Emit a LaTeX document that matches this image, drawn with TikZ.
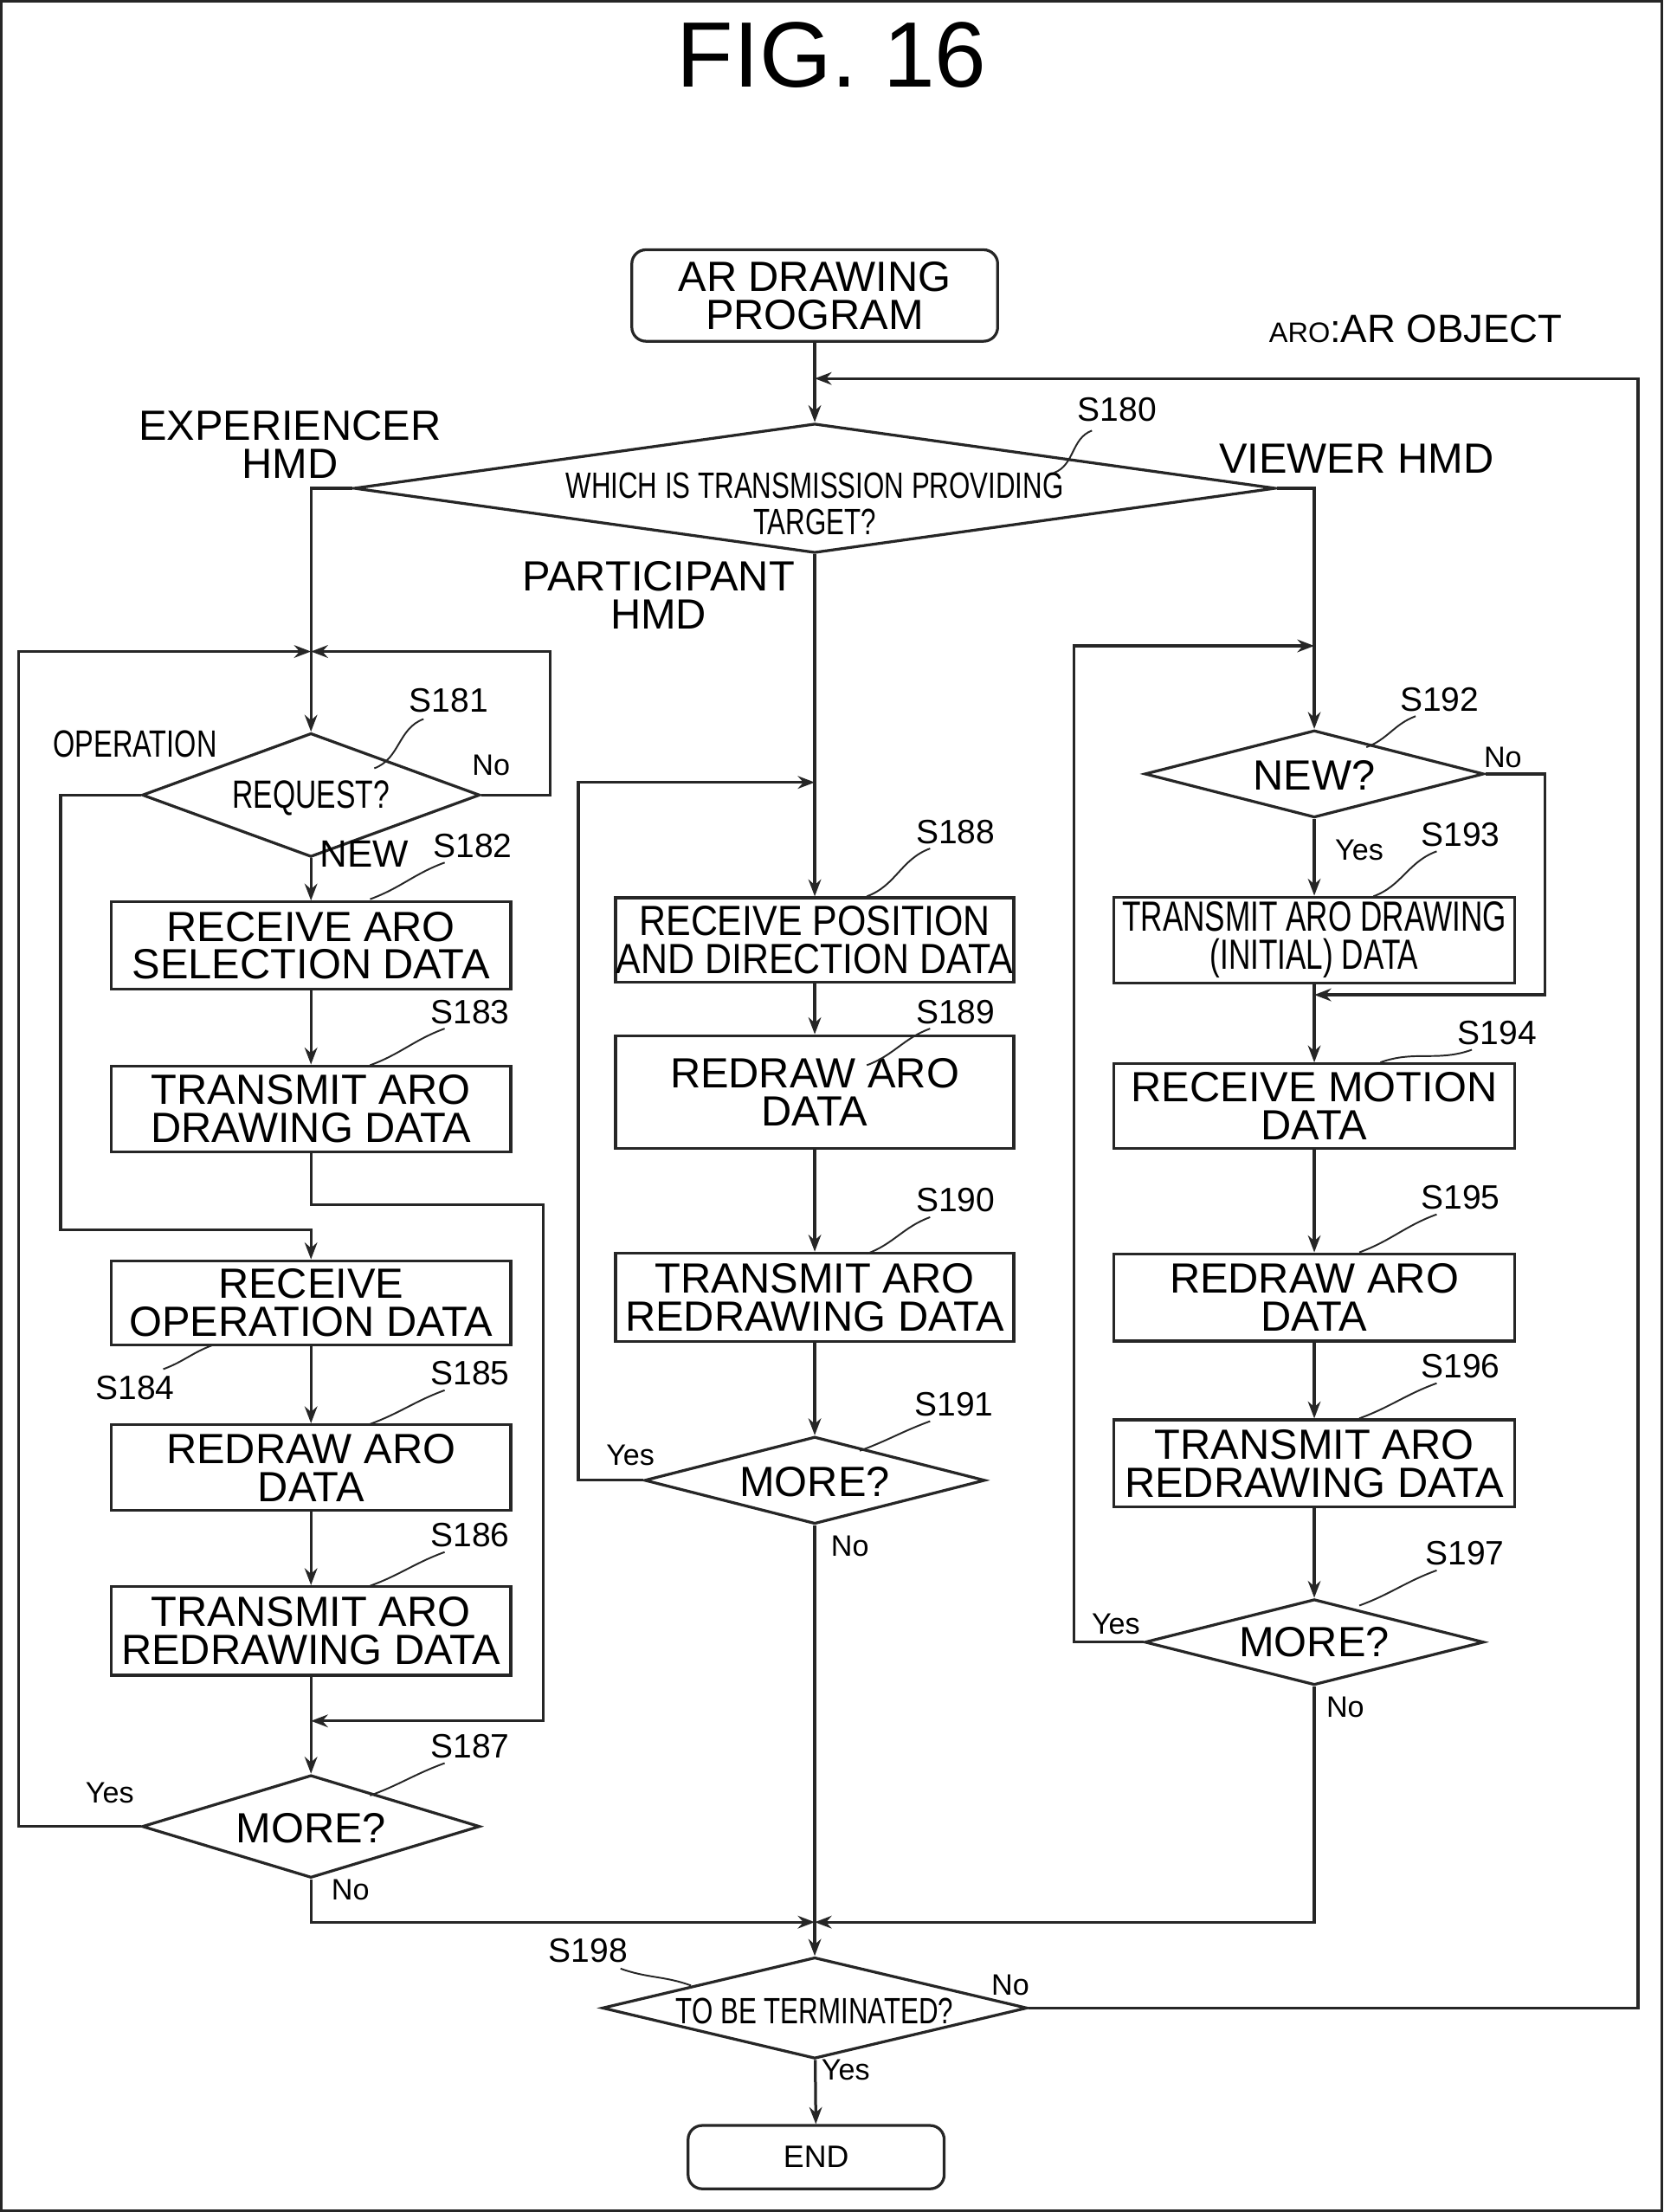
\documentclass[tikz,border=0pt]{standalone}
\usepackage{fontspec}
\setmainfont{Liberation Sans}
\usetikzlibrary{shapes.geometric,arrows.meta}
\newcommand{\cx}[1]{\scalebox{0.74}[1]{#1}}
\begin{document}
\begin{tikzpicture}[x=1pt,y=-1pt,
  every path/.style={line width=2pt,draw=black!85},
  >={Stealth[length=12pt,width=9pt]},
  box/.style={draw,rectangle,line width=2pt,inner sep=0pt,align=center,minimum width=284pt,font=\fontsize{30}{27}\selectfont},
  rbox/.style={box,rounded corners=10pt},
  dia/.style={draw,diamond,line width=2pt,inner sep=0pt},
  txt/.style={inner sep=0pt,align=center,font=\fontsize{30}{27}\selectfont},
  lab/.style={inner sep=0pt,font=\fontsize{24}{24}\selectfont},
  yn/.style={inner sep=0pt,font=\fontsize{21}{21}\selectfont},
  sq/.style={line width=1.2pt}]
\useasboundingbox (0,0) rectangle (1180,1570);
\node[inner sep=0pt,font=\fontsize{66}{66}\selectfont] (title) at (590,38) {FIG. 16};
\node[rbox,minimum width=260pt,minimum height=65pt] (start) at (578,209) {AR DRAWING\\PROGRAM};
\node[inner sep=0pt,font=\fontsize{28}{28}\selectfont] (legend) at (1005,233) {{\fontsize{20}{20}\selectfont ARO}:AR OBJECT};
% diamonds
\node[dia,minimum width=655pt,minimum height=92pt] (d180) at (578,346) {};
\node[txt,font=\fontsize{26}{26}\selectfont] (t180) at (578,357) {\cx{WHICH IS TRANSMISSION PROVIDING}\\\cx{TARGET?}};
\node[dia,minimum width=240pt,minimum height=88pt] (d181) at (220,564) {};
\node[txt] (t181) at (220,566) {\cx{\fontsize{28}{28}\selectfont REQUEST?}};
\node[dia,minimum width=240pt,minimum height=73pt] (d187) at (220,1297) {};
\node[txt] (t187) at (220,1298) {MORE?};
\node[dia,minimum width=242pt,minimum height=62pt] (d191) at (578,1051) {};
\node[txt] (t191) at (578,1052) {MORE?};
\node[dia,minimum width=241pt,minimum height=62pt] (d192) at (933,549) {};
\node[txt] (t192) at (933,550) {NEW?};
\node[dia,minimum width=241pt,minimum height=61pt] (d197) at (933,1166) {};
\node[txt] (t197) at (933,1166) {MORE?};
\node[dia,minimum width=302pt,minimum height=72pt] (d198) at (578,1426) {};
\node[txt,font=\fontsize{26}{26}\selectfont] (t198) at (578,1428) {\cx{TO BE TERMINATED?}};
% boxes
\node[box,minimum height=62pt] (b182) at (220,671) {RECEIVE ARO\\SELECTION DATA};
\node[box,minimum height=61pt] (b183) at (220,787) {TRANSMIT ARO\\DRAWING DATA};
\node[box,minimum height=60pt] (b184) at (220,925) {RECEIVE\\OPERATION DATA};
\node[box,minimum height=61pt] (b185) at (220,1042) {REDRAW ARO\\DATA};
\node[box,minimum height=63pt] (b186) at (220,1158) {TRANSMIT ARO\\REDRAWING DATA};
\node[box,minimum width=283pt,minimum height=60pt] (b188) at (578,667) {\scalebox{0.88}[1]{RECEIVE POSITION}\\\scalebox{0.88}[1]{AND DIRECTION DATA}};
\node[box,minimum width=283pt,minimum height=80pt] (b189) at (578,775) {REDRAW ARO\\DATA};
\node[box,minimum width=283pt,minimum height=63pt] (b190) at (578,921) {TRANSMIT ARO\\REDRAWING DATA};
\node[box,minimum width=285pt,minimum height=61pt] (b193) at (933,667) {\scalebox{0.72}[1]{TRANSMIT ARO DRAWING}\\\scalebox{0.72}[1]{(INITIAL) DATA}};
\node[box,minimum width=285pt,minimum height=60pt] (b194) at (933,785) {RECEIVE MOTION\\DATA};
\node[box,minimum width=285pt,minimum height=62pt] (b195) at (933,921) {REDRAW ARO\\DATA};
\node[box,minimum width=285pt,minimum height=62pt] (b196) at (933,1039) {TRANSMIT ARO\\REDRAWING DATA};
\node[rbox,minimum width=182pt,minimum height=45pt,font=\fontsize{22}{22}\selectfont] (end) at (579,1532) {END};
% branch labels
\node[txt] (lexp) at (205,315) {EXPERIENCER\\HMD};
\node[txt] (lview) at (963,325) {VIEWER HMD};
\node[txt] (lpart) at (467,422) {PARTICIPANT\\HMD};
\node[txt,font=\fontsize{27}{27}\selectfont] (lop) at (95,528) {\cx{OPERATION}};
\node[txt,font=\fontsize{27}{27}\selectfont] (lnew) at (258,606) {NEW};
% step labels
\node[lab] (s180) at (793,290) {S180};
\node[lab] (s181) at (318,497) {S181};
\node[lab] (s182) at (335,600) {S182};
\node[lab] (s183) at (333,718) {S183};
\node[lab] (s184) at (95,985) {S184};
\node[lab] (s185) at (333,975) {S185};
\node[lab] (s186) at (333,1090) {S186};
\node[lab] (s187) at (333,1240) {S187};
\node[lab] (s188) at (678,590) {S188};
\node[lab] (s189) at (678,718) {S189};
\node[lab] (s190) at (678,852) {S190};
\node[lab] (s191) at (677,997) {S191};
\node[lab] (s192) at (1022,496) {S192};
\node[lab] (s193) at (1037,592) {S193};
\node[lab] (s194) at (1063,733) {S194};
\node[lab] (s195) at (1037,850) {S195};
\node[lab] (s196) at (1037,970) {S196};
\node[lab] (s197) at (1040,1103) {S197};
\node[lab] (s198) at (417,1385) {S198};
% squiggles
\draw[sq] (775,305) to[out=200,in=20] (748,335);
\draw[sq] (300,510) to[out=200,in=20] (265,545);
\draw[sq] (315,612) to[out=200,in=20] (262,638);
\draw[sq] (315,730) to[out=200,in=20] (262,756);
\draw[sq] (115,972) to[out=20,in=200] (150,955);
\draw[sq] (315,987) to[out=200,in=20] (262,1011);
\draw[sq] (315,1102) to[out=200,in=20] (262,1126);
\draw[sq] (315,1252) to[out=200,in=20] (262,1275);
\draw[sq] (660,602) to[out=200,in=20] (615,636);
\draw[sq] (660,730) to[out=200,in=20] (615,756);
\draw[sq] (660,864) to[out=200,in=20] (615,890);
\draw[sq] (660,1009) to[out=200,in=20] (610,1030);
\draw[sq] (1005,508) to[out=200,in=20] (970,530);
\draw[sq] (1020,604) to[out=200,in=20] (975,636);
\draw[sq] (1045,745) to[out=200,in=20] (980,754);
\draw[sq] (1020,862) to[out=200,in=20] (965,889);
\draw[sq] (1020,982) to[out=200,in=20] (965,1007);
\draw[sq] (1020,1115) to[out=200,in=20] (965,1140);
\draw[sq] (440,1398) to[out=-20,in=160] (490,1410);
% yes/no
\node[yn] (n181) at (348,543) {No};
\node[yn] (y187) at (77,1273) {Yes};
\node[yn] (n187) at (248,1342) {No};
\node[yn] (y191) at (447,1033) {Yes};
\node[yn] (n191) at (603,1098) {No};
\node[yn] (n192) at (1067,537) {No};
\node[yn] (y192) at (965,603) {Yes};
\node[yn] (y197) at (792,1153) {Yes};
\node[yn] (n197) at (955,1212) {No};
\node[yn] (n198) at (717,1410) {No};
\node[yn] (y198) at (600,1470) {Yes};
% coordinates
\coordinate (top) at (578,268);
\coordinate (jL) at (220,462);
\coordinate (jM) at (578,555);
\coordinate (jR) at (933,458);
\coordinate (jL2) at (220,1222);
\coordinate (jE) at (578,1365);
% connectors
\draw[->] (start) -- (d180.north);
\draw[->] (d198.east) -- (1163,1426) -- (1163,268) -- (top);
\draw[->] (d180.west) -| (d181.north);
\draw[->] (d181.east) -- (390,564) -- (390,462) -- (jL);
\draw[->] (d187.west) -- (12,1297) -- (12,462) -- (jL);
\draw[->] (d181.west) -- (42,564) -- (42,873) -- (220,873) -- (b184.north);
\draw[->] (d181) -- (b182);
\draw[->] (b182) -- (b183);
\draw[->] (b183.south) -- (220,855) -- (385,855) -- (385,1222) -- (jL2);
\draw[->] (b184) -- (b185);
\draw[->] (b185) -- (b186);
\draw[->] (b186) -- (d187);
\draw[->] (d187.south) -- (220,1365) -- (jE);
\draw[->] (d180.south) -- (b188.north);
\draw[->] (d191.west) -- (410,1051) -- (410,555) -- (jM);
\draw[->] (b188) -- (b189);
\draw[->] (b189) -- (b190);
\draw[->] (b190) -- (d191);
\draw[->] (d191.south) -- (d198.north);
\draw[->] (d180.east) -| (d192.north);
\draw[->] (d192.east) -- (1097,549) -- (1097,706) -- (933,706);
\draw[->] (d197.west) -- (762,1166) -- (762,458) -- (jR);
\draw[->] (d192) -- (b193);
\draw[->] (b193) -- (b194);
\draw[->] (b194) -- (b195);
\draw[->] (b195) -- (b196);
\draw[->] (b196) -- (d197);
\draw[->] (d197.south) -- (933,1365) -- (jE);
\draw[->] (d198) -- (end);
\end{tikzpicture}
\end{document}
